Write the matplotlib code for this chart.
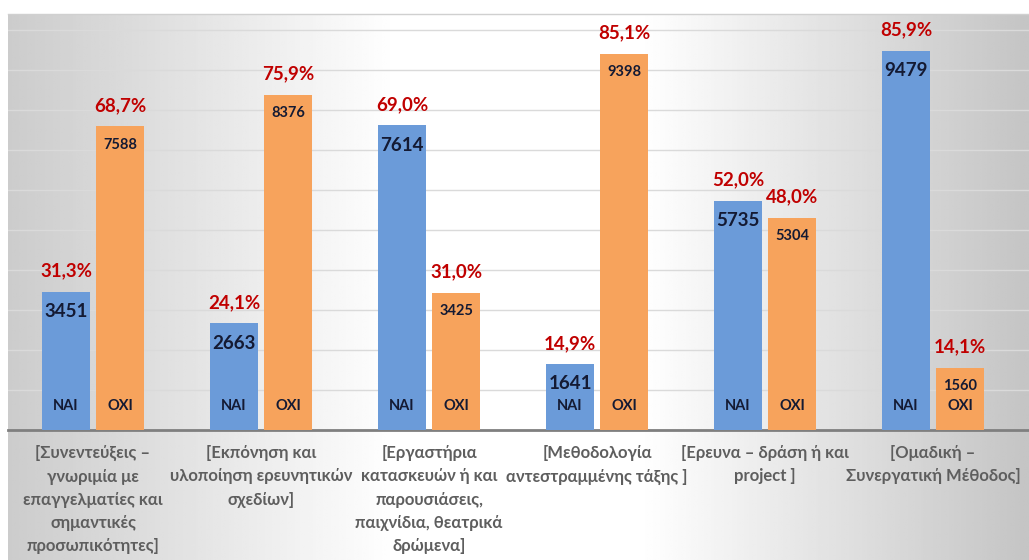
import numpy as np
import matplotlib
matplotlib.use("Agg")
import matplotlib.pyplot as plt

plt.rcParams["font.family"] = ["Lato", "Open Sans", "DejaVu Sans"]

# Data
categories = [
    "[Συνεντεύξεις –\nγνωριμία με\nεπαγγελματίες και\nσημαντικές\nπροσωπικότητες]",
    "[Εκπόνηση και\nυλοποίηση ερευνητικών\nσχεδίων]",
    "[Εργαστήρια\nκατασκευών ή και\nπαρουσιάσεις,\nπαιχνίδια, θεατρικά\nδρώμενα]",
    "[Μεθοδολογία\nαντεστραμμένης τάξης ]",
    "[Ερευνα – δράση ή και\nproject ]",
    "[Ομαδική –\nΣυνεργατική Μέθοδος]",
]
nai_counts = [3451, 2663, 7614, 1641, 5735, 9479]
oxi_counts = [7588, 8376, 3425, 9398, 5304, 1560]
nai_pct = ["31,3%", "24,1%", "69,0%", "14,9%", "52,0%", "85,9%"]
oxi_pct = ["68,7%", "75,9%", "31,0%", "85,1%", "48,0%", "14,1%"]
series_names = ["NAI", "OXI"]

BLUE = "#6b9bd9"
ORANGE = "#f7a35c"
RED = "#c00000"
NAVY = "#141a33"
GRAY_TXT = "#5e5e5e"

W, H = 1029, 560
fig = plt.figure(figsize=(W / 100, H / 100), dpi=100)

# background panel with a horizontal grey-white-grey gradient
bg = fig.add_axes([0, 0, 1, 1], zorder=-2)
bg.set_xlim(0, W)
bg.set_ylim(H, 0)
bg.axis("off")
xs = np.linspace(0, 1, 400)
shade = np.interp(xs, [0, 0.12, 0.38, 0.62, 0.85, 1.0], [0.80, 0.86, 1.0, 1.0, 0.86, 0.77])
grad = np.tile(shade, (50, 1))
bg.imshow(grad, cmap="gray", vmin=0, vmax=1, extent=[8, W, H, 14], aspect="auto")
bg.plot([8, W], [14, 14], color="#d0d0d0", lw=1)

ax = fig.add_axes([8 / W, 1 - 430 / H, 1 - 8 / W, (430 - 14) / H])
ax.set_facecolor("none")

x = np.arange(len(categories))
bw = 48 / 168
off = 27 / 168

b1 = ax.bar(x - off, nai_counts, bw, color=BLUE, zorder=3)
b2 = ax.bar(x + off, oxi_counts, bw, color=ORANGE, zorder=3)

ax.set_xlim(-0.506, 5.571)
ax.set_ylim(0, 10400)
ax.set_yticks(np.arange(0, 10001, 1000))
ax.grid(axis="y", color="#dadada", lw=1, zorder=0)
ax.set_axisbelow(True)
for s in ["top", "right", "left"]:
    ax.spines[s].set_visible(False)
ax.spines["bottom"].set_color("#7f7f7f")
ax.spines["bottom"].set_linewidth(2)
ax.tick_params(left=False, bottom=False, labelleft=False, labelbottom=False)

for bars, counts, pcts, name, vsize in [
    (b1, nai_counts, nai_pct, series_names[0], 13.5),
    (b2, oxi_counts, oxi_pct, series_names[1], 10.5),
]:
    for rect, v, p in zip(bars, counts, pcts):
        cx = rect.get_x() + rect.get_width() / 2
        ax.annotate(str(v), (cx, v), xytext=(0, -8), textcoords="offset points",
                    ha="center", va="top", fontsize=vsize, fontweight="bold",
                    color=NAVY, zorder=5)
        ax.annotate(p, (cx, v), xytext=(0, 9), textcoords="offset points",
                    ha="center", va="bottom", fontsize=13.5, fontweight="bold",
                    color=RED, zorder=5)
        ax.annotate(name, (cx, 0), xytext=(0, 17), textcoords="offset points",
                    ha="center", va="center", fontsize=10.5, fontweight="bold",
                    color=NAVY, zorder=5)

for i, lab in enumerate(categories):
    ax.annotate(lab, (i, 0), xytext=(0, -11), textcoords="offset points",
                ha="center", va="top", fontsize=12, fontweight="bold",
                color=GRAY_TXT, linespacing=1.55, annotation_clip=False)

fig.savefig("out.png", dpi=100)
